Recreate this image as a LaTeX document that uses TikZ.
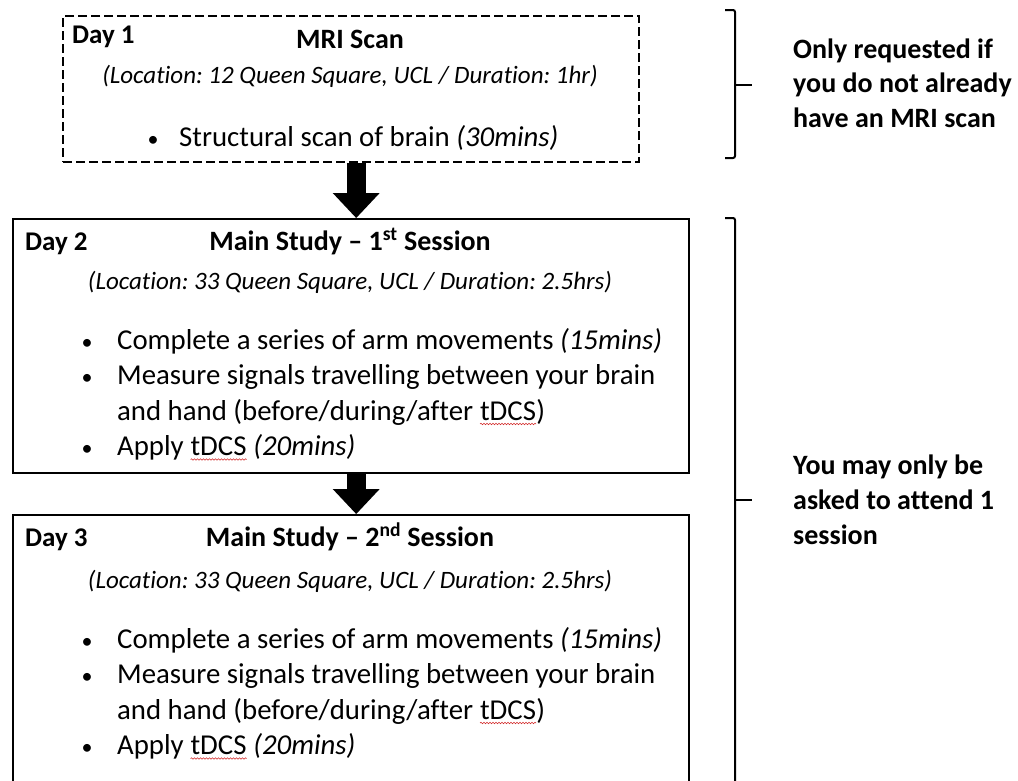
\documentclass[tikz,border=0pt]{standalone}
\usepackage{fontspec}
\setmainfont{Carlito}[Ligatures=NoCommon]
\usetikzlibrary{arrows.meta,positioning,calc,decorations.pathmorphing}
\definecolor{spellred}{RGB}{210,40,40}

% word with a spell-check squiggle
\newcommand{\spellmark}[1]{\tikz[baseline=(w.base)]{%
  \node[inner sep=0pt, outer sep=0pt, anchor=base, draw=none] (w) {#1};
  \draw[spellred, line width=0.6pt, decorate,
    decoration={snake, amplitude=0.7pt, segment length=3pt}]
    ([yshift=-4pt]w.base west) -- ([yshift=-4pt]w.base east);}}

\begin{document}
\frenchspacing
\begin{tikzpicture}[x=1pt, y=-1pt,
    boxsolid/.style={draw, line width=2.4pt, anchor=north west, inner sep=0pt},
    boxdash/.style={boxsolid, dash pattern=on 9pt off 4pt},
    daylbl/.style={font=\fontsize{27}{32}\selectfont\bfseries, anchor=base west, inner sep=0pt},
    title/.style={font=\fontsize{28}{34}\selectfont\bfseries, anchor=base, inner sep=0pt},
    where/.style={font=\fontsize{25}{30}\selectfont\itshape, anchor=base, inner sep=0pt},
    item/.style={font=\fontsize{28.8}{34}\selectfont, anchor=base west, inner sep=0pt},
    dot/.style={font=\fontsize{22}{26}\selectfont, anchor=base, inner sep=0pt},
    noteline/.style={font=\fontsize{28}{34}\selectfont\bfseries, anchor=base west, inner sep=0pt},
    flow/.style={line width=19pt, -{Triangle[width=47pt, length=25pt, line width=0pt]}},
    bracket/.style={line width=2pt, rounded corners=2pt}]
    \clip (0,0) rectangle (1018,780);
    \useasboundingbox (0,0) rectangle (1018,780);
    \fill[white] (0,0) rectangle (1018,780);

    % Day 1
    \node[boxdash, minimum width=576pt, minimum height=146pt] (day1) at (62,15) {};
    \node[daylbl] (day1lbl) at (72,43) {Day 1};
    \node[title] (day1title) at (350,48) {MRI Scan};
    \node[where] (day1where) at (350,83) {(Location: 12 Queen Square, UCL / Duration: 1hr)};
    \node[dot] (day1dot) at (153,146) {•};
    \node[item] (day1item) at (179,146) {Structural scan of brain {\itshape (30mins)}};

    % Days 2 and 3
    \foreach \n/\t/\h/\num/\ord/\dw/\db in {2/218/254/1/st/71/131, 3/514/300/2/nd/74/134} {
        \node[boxsolid, minimum width=676pt, minimum height=\h pt] (day\n) at (12,\t) {};
        \node[daylbl] (day\n lbl) at (25,{\t+32}) {Day \n};
        \node[title] (day\n title) at (350,{\t+32}) {Main Study – \num\textsuperscript{\ord} Session};
        \node[where] (day\n where) at (350,{\t+\dw}) {(Location: 33 Queen Square, UCL / Duration: 2.5hrs)};
        \foreach \k/\i in {a/0, b/1, c/3}
            \node[dot] (day\n dot\k) at (87,{\t+\db+35.5*\i}) {•};
        \node[item] (day\n itema) at (117,{\t+\db}) {Complete a series of arm movements {\itshape (15mins)}};
        \node[item] (day\n itemb) at (117,{\t+\db+35.5}) {Measure signals travelling between your brain};
        \node[item] (day\n itemb2) at (117,{\t+\db+71}) {and hand (before/during/after \spellmark{tDCS})};
        \node[item] (day\n itemc) at (117,{\t+\db+106.5}) {Apply \spellmark{tDCS} {\itshape (20mins)}};
    }

    % flow arrows
    \draw[flow] ($(day1.south)+(5,0)$) -- ($(day2.north)+(5,0)$);
    \draw[flow] ($(day2.south)+(5,0)$) -- ($(day3.north)+(5,0)$);

    % brackets with notes
    \draw[bracket] (725,10) -- (735,10) -- (735,158) -- (725,158);
    \draw[line width=2pt] (735,85) -- (752,85);
    \foreach \i/\txt in {1/Only requested if, 2/you do not already, 3/have an MRI scan}
        \node[noteline] (note1-\i) at (793,{58+34.5*(\i-1)}) {\txt};

    \draw[bracket] (725,218) -- (735,218) -- (735,783) -- (725,783);
    \draw[line width=2pt] (735,500) -- (752,500);
    \foreach \i/\txt in {1/You may only be, 2/asked to attend 1, 3/session}
        \node[noteline] (note2-\i) at (793,{474+35*(\i-1)}) {\txt};
\end{tikzpicture}
\end{document}
